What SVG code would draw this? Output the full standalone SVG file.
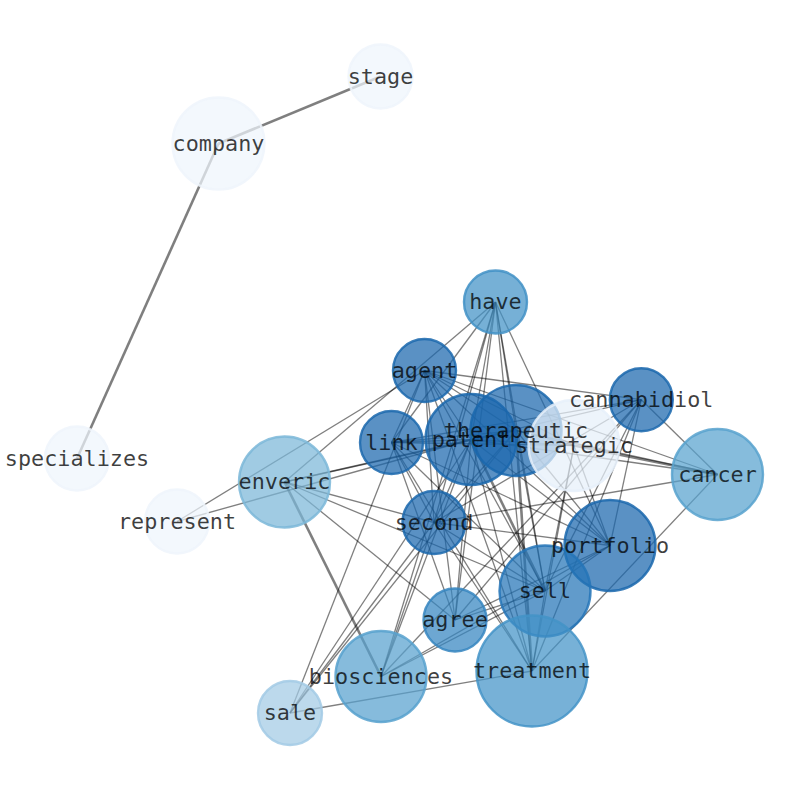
<svg xmlns="http://www.w3.org/2000/svg" width="794" height="790" viewBox="0 0 794 790">
<style>
.e{stroke:#000;stroke-opacity:0.5;stroke-width:1.3;fill:none}
.w{stroke-width:2.6}
.n{fill-opacity:0.72;stroke-opacity:0.85;stroke-width:2.4}
.t{font-family:"DejaVu Sans Mono","Liberation Mono",monospace;font-size:21.8px;fill:#000;fill-opacity:0.75;text-anchor:middle}
.lt{fill:#eef5fc;stroke:#eef5fc}
.dk{fill:#1a67ad;stroke:#1a67ad}
</style>
<rect width="794" height="790" fill="#fff"/>
<g id="connectors">
<line class="e w" x1="218.5" y1="143.5" x2="380.5" y2="76.5"/>
<line class="e w" x1="218.5" y1="143.5" x2="77" y2="458.5"/>
<line class="e w" x1="284.5" y1="482" x2="381" y2="676.5"/>
<line class="e w" x1="574" y1="445.5" x2="717.5" y2="474.5"/>
<line class="e w" x1="471" y1="439.5" x2="545" y2="591"/>
<line class="e w" x1="516" y1="430.5" x2="532" y2="671"/>
<line class="e" x1="177" y1="521.5" x2="424.5" y2="370.5"/>
<line class="e" x1="177" y1="521.5" x2="471" y2="439.5"/>
<line class="e" x1="284.5" y1="482" x2="495.5" y2="302"/>
<line class="e" x1="284.5" y1="482" x2="455" y2="620"/>
<line class="e" x1="284.5" y1="482" x2="545" y2="591"/>
<line class="e" x1="284.5" y1="482" x2="434" y2="522.5"/>
<line class="e" x1="284.5" y1="482" x2="471" y2="439.5"/>
<line class="e" x1="284.5" y1="482" x2="516" y2="430.5"/>
<line class="e" x1="495.5" y1="302" x2="391.5" y2="442.5"/>
<line class="e" x1="495.5" y1="302" x2="434" y2="522.5"/>
<line class="e" x1="495.5" y1="302" x2="455" y2="620"/>
<line class="e" x1="495.5" y1="302" x2="381" y2="676.5"/>
<line class="e" x1="495.5" y1="302" x2="471" y2="439.5"/>
<line class="e" x1="495.5" y1="302" x2="516" y2="430.5"/>
<line class="e" x1="495.5" y1="302" x2="545" y2="591"/>
<line class="e" x1="495.5" y1="302" x2="532" y2="671"/>
<line class="e" x1="495.5" y1="302" x2="610" y2="545.5"/>
<line class="e" x1="641.3" y1="399.7" x2="424.5" y2="370.5"/>
<line class="e" x1="641.3" y1="399.7" x2="717.5" y2="474.5"/>
<line class="e" x1="641.3" y1="399.7" x2="610" y2="545.5"/>
<line class="e" x1="641.3" y1="399.7" x2="391.5" y2="442.5"/>
<line class="e" x1="641.3" y1="399.7" x2="471" y2="439.5"/>
<line class="e" x1="641.3" y1="399.7" x2="434" y2="522.5"/>
<line class="e" x1="641.3" y1="399.7" x2="545" y2="591"/>
<line class="e" x1="641.3" y1="399.7" x2="455" y2="620"/>
<line class="e" x1="641.3" y1="399.7" x2="381" y2="676.5"/>
<line class="e" x1="641.3" y1="399.7" x2="532" y2="671"/>
<line class="e" x1="717.5" y1="474.5" x2="424.5" y2="370.5"/>
<line class="e" x1="717.5" y1="474.5" x2="516" y2="430.5"/>
<line class="e" x1="717.5" y1="474.5" x2="471" y2="439.5"/>
<line class="e" x1="717.5" y1="474.5" x2="434" y2="522.5"/>
<line class="e" x1="717.5" y1="474.5" x2="532" y2="671"/>
<line class="e" x1="532" y1="671" x2="290" y2="713"/>
<line class="e" x1="532" y1="671" x2="391.5" y2="442.5"/>
<line class="e" x1="532" y1="671" x2="434" y2="522.5"/>
<line class="e" x1="532" y1="671" x2="424.5" y2="370.5"/>
<line class="e" x1="532" y1="671" x2="471" y2="439.5"/>
<line class="e" x1="532" y1="671" x2="545" y2="591"/>
<line class="e" x1="532" y1="671" x2="574" y2="445.5"/>
<line class="e" x1="290" y1="713" x2="424.5" y2="370.5"/>
<line class="e" x1="290" y1="713" x2="434" y2="522.5"/>
<line class="e" x1="290" y1="713" x2="516" y2="430.5"/>
<line class="e" x1="290" y1="713" x2="471" y2="439.5"/>
<line class="e" x1="381" y1="676.5" x2="434" y2="522.5"/>
<line class="e" x1="381" y1="676.5" x2="545" y2="591"/>
<line class="e" x1="381" y1="676.5" x2="610" y2="545.5"/>
<line class="e" x1="381" y1="676.5" x2="471" y2="439.5"/>
<line class="e" x1="455" y1="620" x2="391.5" y2="442.5"/>
<line class="e" x1="455" y1="620" x2="424.5" y2="370.5"/>
<line class="e" x1="455" y1="620" x2="471" y2="439.5"/>
<line class="e" x1="455" y1="620" x2="610" y2="545.5"/>
<line class="e" x1="455" y1="620" x2="545" y2="591"/>
<line class="e" x1="424.5" y1="370.5" x2="391.5" y2="442.5"/>
<line class="e" x1="424.5" y1="370.5" x2="471" y2="439.5"/>
<line class="e" x1="424.5" y1="370.5" x2="516" y2="430.5"/>
<line class="e" x1="424.5" y1="370.5" x2="574" y2="445.5"/>
<line class="e" x1="424.5" y1="370.5" x2="434" y2="522.5"/>
<line class="e" x1="424.5" y1="370.5" x2="610" y2="545.5"/>
<line class="e" x1="424.5" y1="370.5" x2="545" y2="591"/>
<line class="e" x1="391.5" y1="442.5" x2="471" y2="439.5"/>
<line class="e" x1="391.5" y1="442.5" x2="516" y2="430.5"/>
<line class="e" x1="391.5" y1="442.5" x2="434" y2="522.5"/>
<line class="e" x1="391.5" y1="442.5" x2="610" y2="545.5"/>
<line class="e" x1="391.5" y1="442.5" x2="545" y2="591"/>
<line class="e" x1="391.5" y1="442.5" x2="574" y2="445.5"/>
<line class="e" x1="471" y1="439.5" x2="516" y2="430.5"/>
<line class="e" x1="471" y1="439.5" x2="574" y2="445.5"/>
<line class="e" x1="471" y1="439.5" x2="434" y2="522.5"/>
<line class="e" x1="471" y1="439.5" x2="610" y2="545.5"/>
<line class="e" x1="516" y1="430.5" x2="574" y2="445.5"/>
<line class="e" x1="516" y1="430.5" x2="434" y2="522.5"/>
<line class="e" x1="516" y1="430.5" x2="610" y2="545.5"/>
<line class="e" x1="516" y1="430.5" x2="545" y2="591"/>
<line class="e" x1="574" y1="445.5" x2="610" y2="545.5"/>
<line class="e" x1="574" y1="445.5" x2="545" y2="591"/>
<line class="e" x1="434" y1="522.5" x2="610" y2="545.5"/>
<line class="e" x1="434" y1="522.5" x2="545" y2="591"/>
<line class="e" x1="545" y1="591" x2="610" y2="545.5"/>
</g>
<g id="node-stage"><circle class="n lt" cx="380.5" cy="76.5" r="32"/></g>
<g id="node-company"><circle class="n lt" cx="218.5" cy="143.5" r="46"/></g>
<g id="node-specializes"><circle class="n lt" cx="77" cy="458.5" r="32"/></g>
<g id="node-represent"><circle class="n lt" cx="177" cy="521.5" r="32"/></g>
<g id="node-enveric"><circle class="n" cx="284.5" cy="482" r="45.5" fill="#7bb7d8" stroke="#7bb7d8"/></g>
<g id="node-biosciences"><circle class="n" cx="381" cy="676.5" r="45.5" fill="#57a1ce" stroke="#57a1ce"/></g>
<g id="node-sale"><circle class="n" cx="290" cy="713" r="32" fill="#a2cae5" stroke="#a2cae5"/></g>
<g id="node-have"><circle class="n" cx="495.5" cy="302" r="31.5" fill="#4191c6" stroke="#4191c6"/></g>
<g id="node-agent"><circle class="n dk" cx="424.5" cy="370.5" r="31.5"/></g>
<g id="node-link"><circle class="n dk" cx="391.5" cy="442.5" r="31.5"/></g>
<g id="node-patent"><circle class="n dk" cx="471" cy="439.5" r="45.5"/></g>
<g id="node-therapeutic"><circle class="n dk" cx="516" cy="430.5" r="45.5"/></g>
<g id="node-strategic"><circle class="n" cx="574" cy="445.5" r="45.5" fill="#e6f0fa" stroke="#e6f0fa"/></g>
<g id="node-cannabidiol"><circle class="n dk" cx="641.3" cy="399.7" r="31.5"/></g>
<g id="node-cancer"><circle class="n" cx="717.5" cy="474.5" r="45.5" fill="#58a2ce" stroke="#58a2ce"/></g>
<g id="node-second"><circle class="n dk" cx="434" cy="522.5" r="31.5"/></g>
<g id="node-agree"><circle class="n" cx="455" cy="620" r="31.5" fill="#3585c0" stroke="#3585c0"/></g>
<g id="node-portfolio"><circle class="n dk" cx="610" cy="545.5" r="45.5"/></g>
<g id="node-sell"><circle class="n" cx="545" cy="591" r="45.5" fill="#2474b7" stroke="#2474b7"/></g>
<g id="node-treatment"><circle class="n" cx="532" cy="671" r="55.5" fill="#4393c7" stroke="#4393c7"/></g>
<g id="labels">
<text class="t" x="380.5" y="83.5">stage</text>
<text class="t" x="218.5" y="150.5">company</text>
<text class="t" x="77" y="465.5">specializes</text>
<text class="t" x="177" y="528.5">represent</text>
<text class="t" x="284.5" y="489">enveric</text>
<text class="t" x="381" y="683.5">biosciences</text>
<text class="t" x="290" y="720">sale</text>
<text class="t" x="495.5" y="309">have</text>
<text class="t" x="424.5" y="377.5">agent</text>
<text class="t" x="391.5" y="449.5">link</text>
<text class="t" x="471" y="446.5">patent</text>
<text class="t" x="516" y="437.5">therapeutic</text>
<text class="t" x="574" y="452.5">strategic</text>
<text class="t" x="641.3" y="406.7">cannabidiol</text>
<text class="t" x="717.5" y="481.5">cancer</text>
<text class="t" x="434" y="529.5">second</text>
<text class="t" x="455" y="627">agree</text>
<text class="t" x="610" y="552.5">portfolio</text>
<text class="t" x="545" y="598">sell</text>
<text class="t" x="532" y="678">treatment</text>
</g>
</svg>
